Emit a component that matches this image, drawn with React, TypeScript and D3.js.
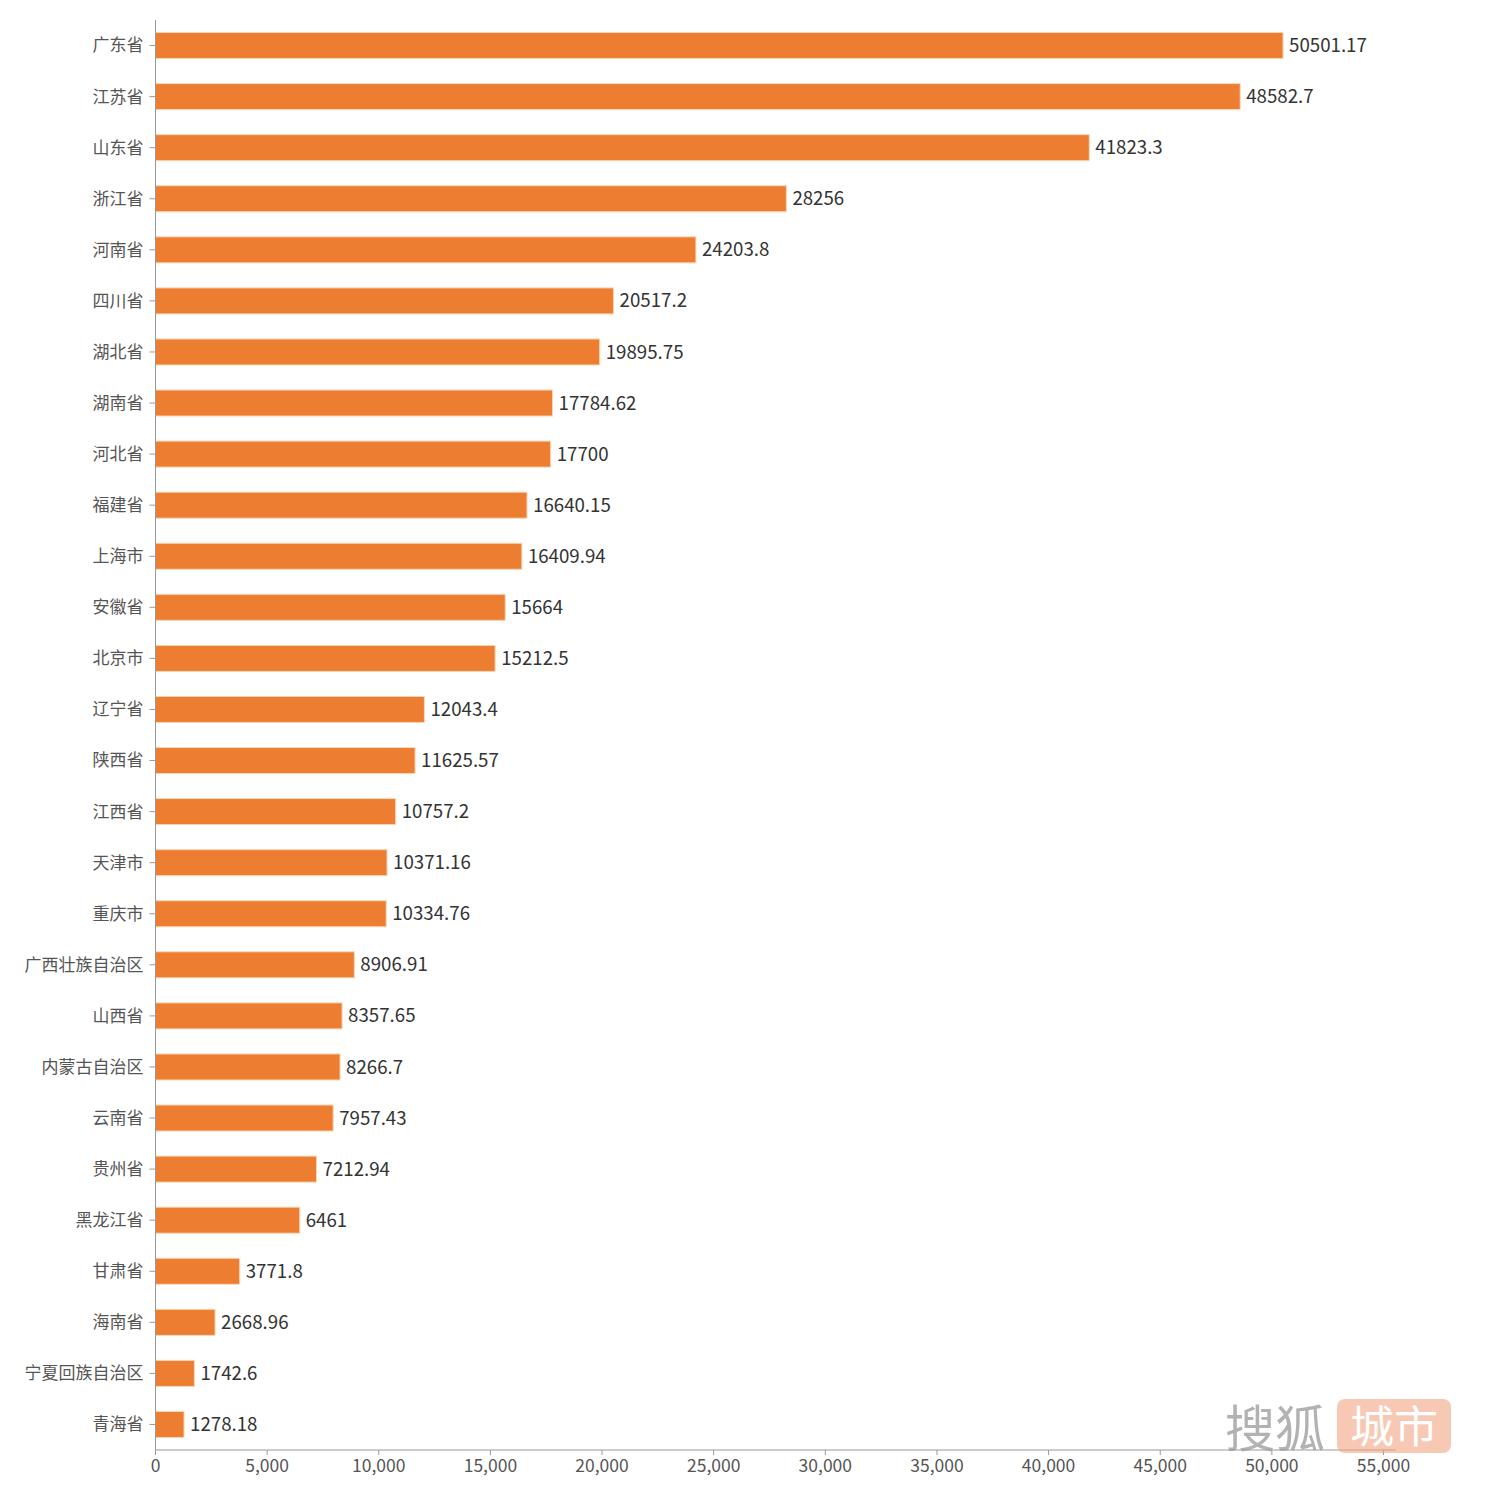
import React from "react";
import * as d3 from "d3";

const provinces = [
  "广东省", "江苏省", "山东省", "浙江省", "河南省", "四川省", "湖北省", "湖南省",
  "河北省", "福建省", "上海市", "安徽省", "北京市", "辽宁省", "陕西省", "江西省",
  "天津市", "重庆市", "广西壮族自治区", "山西省", "内蒙古自治区", "云南省", "贵州省",
  "黑龙江省", "甘肃省", "海南省", "宁夏回族自治区", "青海省",
];
const values = [
  50501.17, 48582.7, 41823.3, 28256, 24203.8, 20517.2, 19895.75, 17784.62,
  17700, 16640.15, 16409.94, 15664, 15212.5, 12043.4, 11625.57, 10757.2,
  10371.16, 10334.76, 8906.91, 8357.65, 8266.7, 7957.43, 7212.94,
  6461, 3771.8, 2668.96, 1742.6, 1278.18,
];
const xTicks = [0, 5000, 10000, 15000, 20000, 25000, 30000, 35000, 40000, 45000, 50000, 55000];

const W = 1500;
const H = 1500;
const left = 155.5;
const top = 20;
const bottom = 1450;
const axisEnd = 1396;

export default function App() {
  const x = d3.scaleLinear().domain([0, 55000]).range([left, 1383.5]);
  const y = d3.scaleBand<string>().domain(provinces).range([top, bottom]).paddingInner(0.49).paddingOuter(0.245);
  const fmt = d3.format(",");
  const font = "'Microsoft YaHei', 'Noto Sans CJK SC', sans-serif";

  return (
    <svg width={W} height={H} style={{ position: "absolute", left: 0, top: 0, fontFamily: font }}>
      <rect width={W} height={H} fill="#fff" />
      {/* bars */}
      {provinces.map((p, i) => (
        <g key={p}>
          <rect
            x={x(0)}
            y={y(p)!}
            width={x(values[i]) - x(0)}
            height={y.bandwidth()}
            fill="#ED7D31"
            stroke="#F8D9B8"
            strokeWidth={1}
          />
          <text
            x={x(values[i]) + 6}
            y={y(p)! + y.bandwidth() / 2}
            dy="0.35em"
            fontSize={18.7}
            fill="#333"
          >
            {values[i]}
          </text>
          <line x1={left - 6} x2={left} y1={y(p)! + y.bandwidth() / 2} y2={y(p)! + y.bandwidth() / 2} stroke="#999" />
          <text
            x={left - 12}
            y={y(p)! + y.bandwidth() / 2}
            dy="0.35em"
            textAnchor="end"
            fontSize={17}
            fill="#555"
          >
            {p}
          </text>
        </g>
      ))}
      {/* axes */}
      <line x1={left} x2={left} y1={top} y2={bottom} stroke="#999" />
      <line x1={left} x2={axisEnd} y1={bottom} y2={bottom} stroke="#999" />
      {xTicks.map((t) => (
        <g key={t}>
          <line x1={x(t)} x2={x(t)} y1={bottom} y2={bottom + 5} stroke="#999" />
          <text x={x(t)} y={bottom + 22} textAnchor="middle" fontSize={17.5} fill="#555">
            {fmt(t)}
          </text>
        </g>
      ))}
      {/* watermark */}
      <g opacity={0.75}>
        <text x={1225} y={1447} fontSize={50} fill="#999">搜狐</text>
        <rect x={1337} y={1399} width={114} height={54} rx={8} fill="#F2A585" opacity={0.8} />
        <text x={1394} y={1443} textAnchor="middle" fontSize={44} fill="#fff">城市</text>
      </g>
    </svg>
  );
}
